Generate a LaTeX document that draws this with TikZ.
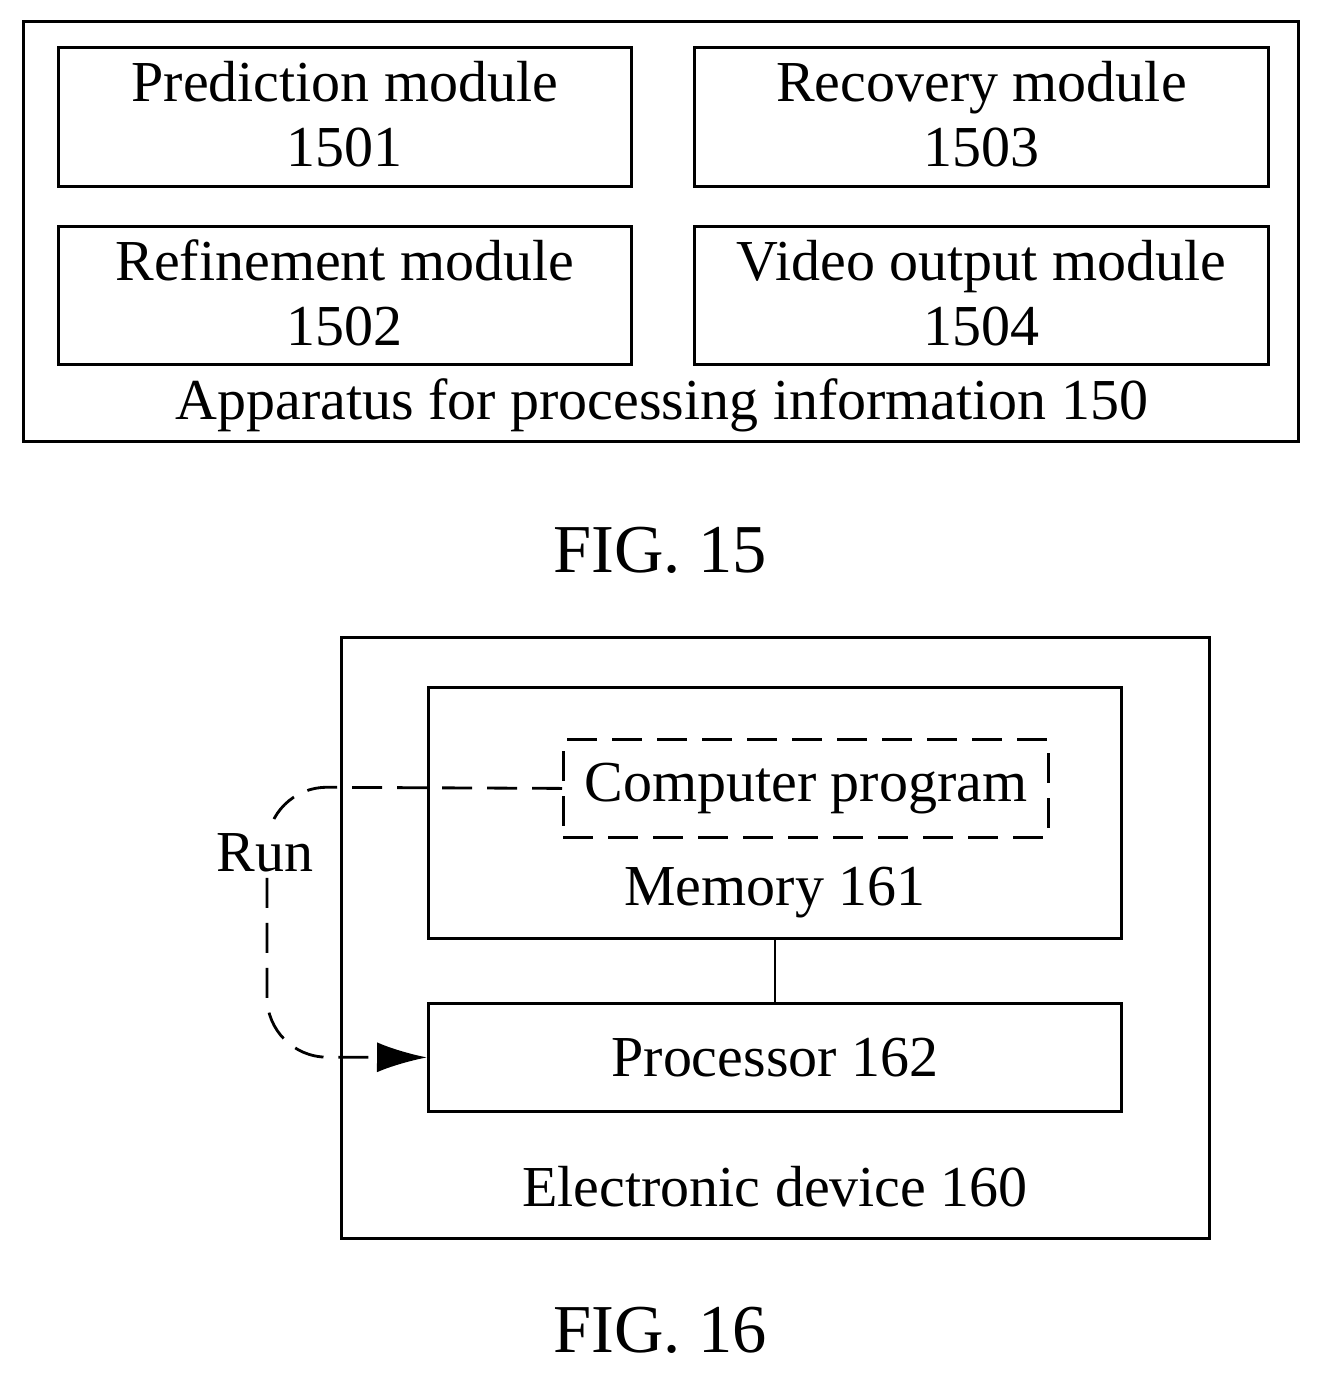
\documentclass[tikz,border=0pt]{standalone}
\usepackage{fontspec}
\setmainfont{Liberation Serif}
\usetikzlibrary{arrows.meta}
\tikzset{
  box/.style={draw,line width=1.6pt,inner sep=0pt,anchor=north west},
  lbl/.style={font=\fontsize{33}{37}\selectfont,align=center},
  fig/.style={font=\fontsize{39}{44}\selectfont},
  dsh/.style={line width=1.6pt,dash pattern=on 0.6cm off 0.3cm}
}
\begin{document}
\begin{tikzpicture}[x=0.02cm,y=-0.02cm]
\useasboundingbox (0,0) rectangle (1319,1373);
% FIG. 15
\node[box,minimum width=1275*0.02cm,minimum height=420*0.02cm] (app) at (22,20) {};
\node[box,minimum width=573*0.02cm,minimum height=139*0.02cm] (pred) at (57,46) {};
\node[box,minimum width=574*0.02cm,minimum height=139*0.02cm] (rec) at (693,46) {};
\node[box,minimum width=573*0.02cm,minimum height=138*0.02cm] (ref) at (57,225) {};
\node[box,minimum width=574*0.02cm,minimum height=138*0.02cm] (vid) at (693,225) {};
\node[lbl] at ([yshift=0.05cm]pred.center) {Prediction module\\1501};
\node[lbl] at ([yshift=0.05cm]rec.center) {Recovery module\\1503};
\node[lbl] at ([yshift=0.05cm]ref.center) {Refinement module\\1502};
\node[lbl] at ([yshift=0.05cm]vid.center) {Video output module\\1504};
\node[lbl] (applbl) at (662,405) {Apparatus for processing information 150};
\node[fig] (fig15) at (660,550) {FIG. 15};
% FIG. 16
\node[box,minimum width=868*0.02cm,minimum height=601*0.02cm] (dev) at (340,636) {};
\node[box,minimum width=693*0.02cm,minimum height=251*0.02cm] (mem) at (427,686) {};
\node[box,dsh,minimum width=485*0.02cm,minimum height=98*0.02cm] (prog) at (562,738) {};
\node[lbl] at (prog.center) {Computer program};
\node[lbl] (memlbl) at (775,893) {Memory 161};
\node[box,minimum width=693*0.02cm,minimum height=108*0.02cm] (proc) at (427,1002) {};
\node[lbl] at (proc.center) {Processor 162};
\node[lbl] (devlbl) at (775,1187) {Electronic device 160};
\node[fig] (fig16) at (660,1330) {FIG. 16};
\draw[line width=1.6pt] (mem.south) -- (proc.north);
\coordinate (c1) at (267,787);
\coordinate (c2) at (267,1057);
\draw[dsh,rounded corners=1.2cm,-{Latex[length=1cm,width=0.6cm]}] (prog.west) -- (c1) -- (c2) -- (proc.west);
\node[lbl,fill=white,inner sep=2pt] (run) at (265,853) {Run};
\end{tikzpicture}
\end{document}
